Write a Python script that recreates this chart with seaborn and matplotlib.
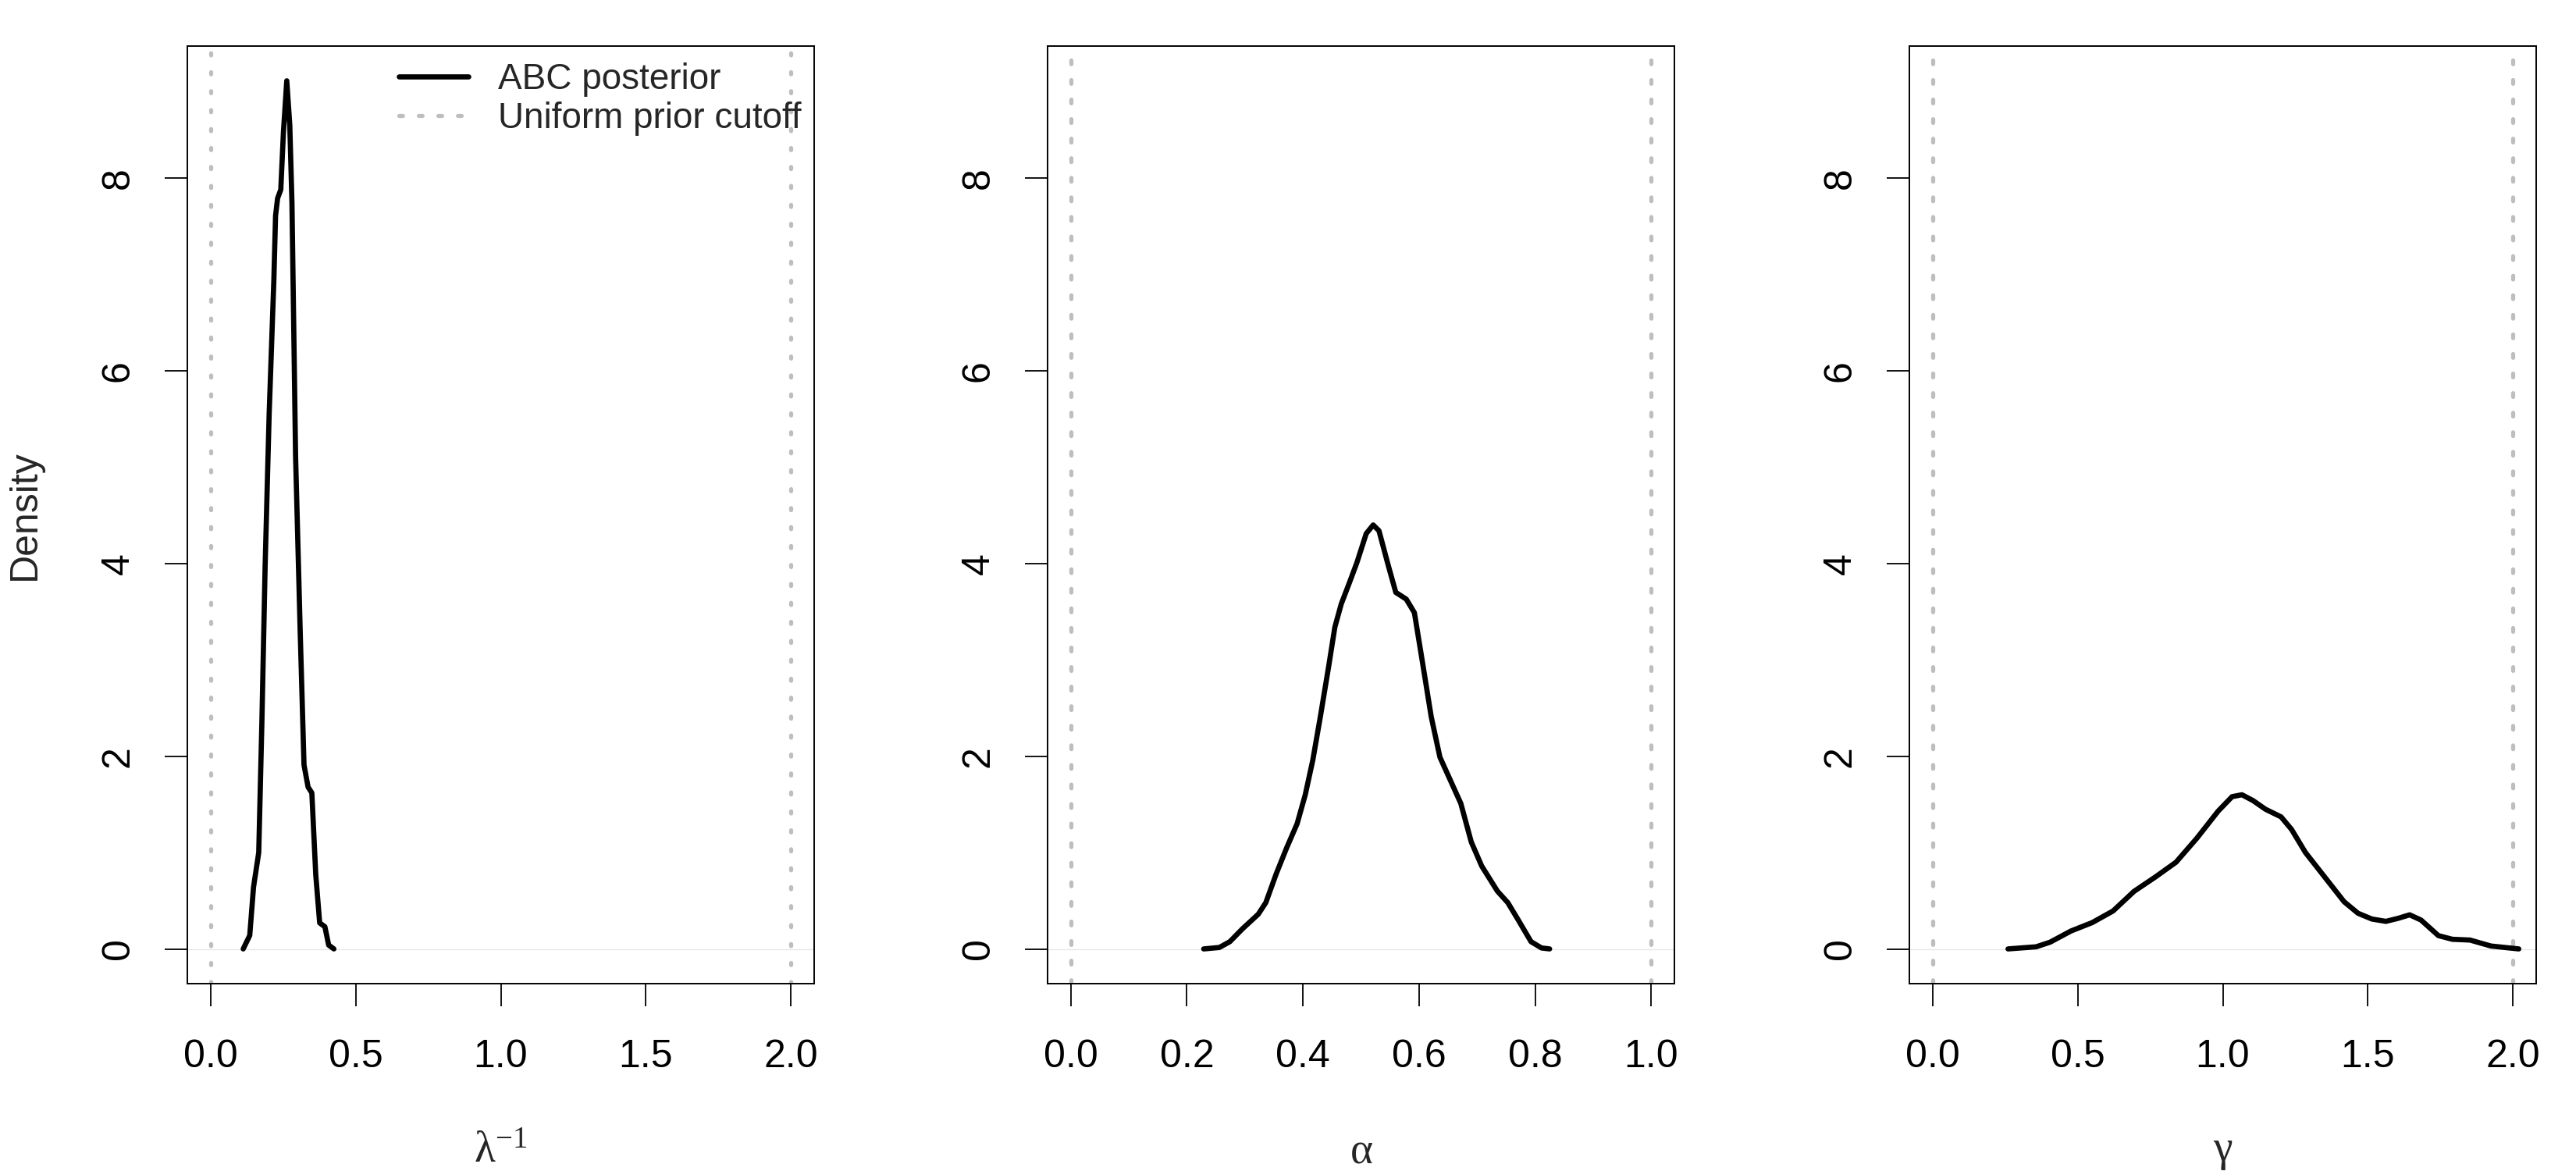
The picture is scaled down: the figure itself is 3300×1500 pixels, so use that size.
import numpy as np
import pandas as pd
import matplotlib
matplotlib.use("Agg")
import matplotlib.pyplot as plt
import seaborn as sns
from matplotlib.lines import Line2D

# ---------------- data ----------------
lam_x = [0.1125, 0.135, 0.148, 0.166, 0.177, 0.188, 0.202, 0.218, 0.224, 0.231, 0.242,
         0.251, 0.2626, 0.273, 0.2805, 0.293, 0.309, 0.322, 0.336, 0.349, 0.3625,
         0.376, 0.394, 0.407, 0.425]
lam_y = [0.0, 0.14, 0.64, 1.00, 2.37, 3.97, 5.56, 6.93, 7.61, 7.79, 7.88,
         8.47, 9.01, 8.55, 7.74, 5.11, 3.28, 1.91, 1.68, 1.62, 0.77,
         0.27, 0.23, 0.04, 0.0]

alpha_x = [0.229, 0.256, 0.274, 0.296, 0.323, 0.336, 0.354, 0.372, 0.390, 0.404, 0.417,
           0.430, 0.444, 0.455, 0.466, 0.480, 0.493, 0.509, 0.521, 0.531, 0.547,
           0.560, 0.578, 0.592, 0.605, 0.621, 0.636, 0.654, 0.672, 0.690, 0.708,
           0.735, 0.753, 0.771, 0.793, 0.811, 0.825]
alpha_y = [0.0, 0.015, 0.075, 0.21, 0.36, 0.48, 0.78, 1.05, 1.30, 1.60, 1.96,
           2.41, 2.92, 3.34, 3.58, 3.80, 4.01, 4.31, 4.40, 4.34, 3.98,
           3.70, 3.63, 3.49, 3.01, 2.41, 1.99, 1.75, 1.51, 1.11, 0.86,
           0.60, 0.48, 0.30, 0.075, 0.01, 0.0]

gamma_x = [0.260, 0.357, 0.405, 0.477, 0.550, 0.622, 0.694, 0.767, 0.839, 0.911, 0.984,
           1.032, 1.066, 1.104, 1.147, 1.201, 1.237, 1.285, 1.345, 1.418, 1.466,
           1.514, 1.562, 1.605, 1.644, 1.683, 1.743, 1.791, 1.852, 1.924, 2.020]
gamma_y = [0.0, 0.022, 0.07, 0.186, 0.273, 0.394, 0.597, 0.745, 0.90, 1.15, 1.43,
           1.58, 1.60, 1.54, 1.45, 1.37, 1.24, 1.00, 0.77, 0.49, 0.37,
           0.31, 0.286, 0.318, 0.354, 0.30, 0.138, 0.10, 0.092, 0.03, 0.0]

prior_lo = [0.0, 0.0, 0.0]
prior_hi = [2.0, 1.0, 2.0]
xticks_list = [[0.0, 0.5, 1.0, 1.5, 2.0],
               [0.0, 0.2, 0.4, 0.6, 0.8, 1.0],
               [0.0, 0.5, 1.0, 1.5, 2.0]]
yticks = [0, 2, 4, 6, 8]
xlabels = [r"$\mathrm{λ}^{-1}$", r"$\mathrm{α}$", r"$\mathrm{γ}$"]
legend_labels = ["ABC posterior", "Uniform prior cutoff"]

# ---------------- style ----------------
sns.set_style("white")
plt.rcParams["font.family"] = ["Liberation Sans", "DejaVu Sans"]
plt.rcParams["mathtext.fontset"] = "custom"
plt.rcParams["mathtext.rm"] = "Liberation Serif"
plt.rcParams["mathtext.it"] = "Liberation Serif:italic"

FS = 36
LEG_FS = 33
W, H = 3300, 1500
fig = plt.figure(figsize=(33, 15), dpi=100)
fig.patch.set_facecolor("white")

lefts = [240, 1342, 2446]
box_w = 803
top, bottom = 59, 1260

curves = [(lam_x, lam_y), (alpha_x, alpha_y), (gamma_x, gamma_y)]
ymax = max(max(lam_y), max(alpha_y), max(gamma_y))
ylim = (-0.04 * ymax, ymax * 1.04)

gray = "#BEBEBE"
GLW = 3.8
CLW = 4.8
dash_styles = [(0, (0.5, 4.1)), (0, (0.9, 3.85)), (0, (0.9, 3.85))]

for i, (cx, cy) in enumerate(curves):
    ax = fig.add_axes([lefts[i] / W, (H - bottom) / H, box_w / W, (bottom - top) / H])
    df = pd.DataFrame({"x": cx, "density": cy})
    lo, hi = prior_lo[i], prior_hi[i]
    span = hi - lo
    ax.set_xlim(lo - 0.04 * span, hi + 0.04 * span)
    ax.set_ylim(*ylim)
    ax.axhline(0, color="#E6E6E6", lw=0.9, zorder=1)
    for v in (lo, hi):
        ax.axvline(v, color=gray, lw=GLW, linestyle=dash_styles[i],
                   dash_capstyle="round", zorder=2)
    sns.lineplot(data=df, x="x", y="density", ax=ax, color="black", lw=CLW,
                 sort=False, estimator=None, zorder=3)
    for ln in ax.get_lines()[-1:]:
        ln.set_solid_joinstyle("round")
        ln.set_solid_capstyle("round")

    ax.set_xticks(xticks_list[i])
    ax.set_xticklabels([f"{t:.1f}" for t in xticks_list[i]])
    ax.set_yticks(yticks)
    ax.set_yticklabels([str(t) for t in yticks])
    ax.tick_params(axis="x", direction="out", length=21, width=1.3,
                   colors="black", labelsize=FS, pad=30, bottom=True)
    ax.tick_params(axis="y", direction="out", length=21, width=1.3,
                   colors="black", labelsize=FS, pad=26, left=True)
    for lab in ax.get_yticklabels():
        lab.set_rotation(90)
        lab.set_va("center")
        lab.set_ha("right")
    for sp in ax.spines.values():
        sp.set_visible(True)
        sp.set_color("black")
        sp.set_linewidth(1.4)
    ax.set_ylabel("")
    ax.set_xlabel(xlabels[i], fontsize=FS + 4)
    ax.xaxis.set_label_coords(0.5, (bottom - 1475) / (bottom - top))
    ax.xaxis.label.set_va("center")

    if i == 0:
        handles = [Line2D([0], [0], color="black", lw=CLW),
                   Line2D([0], [0], color=gray, lw=GLW, linestyle=(0, (0.9, 3.85)),
                          dash_capstyle="round")]
        ax.legend(handles, legend_labels, loc="upper left",
                  bbox_to_anchor=((511 - lefts[0]) / box_w, (bottom - 80) / (bottom - top)),
                  frameon=False, fontsize=LEG_FS, handlelength=1.95, handletextpad=0.83,
                  labelspacing=0.14, borderpad=0, borderaxespad=0)

fig.text(32 / W, (H - 660) / H, "Density", rotation=90, fontsize=FS,
         ha="center", va="center")

fig.savefig("out.png", dpi=100, facecolor="white")
